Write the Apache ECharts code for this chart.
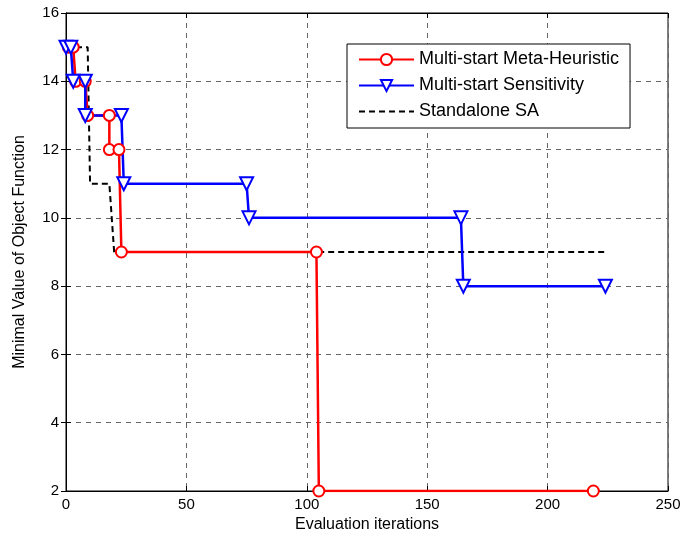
<!DOCTYPE html>
<html>
<head>
<meta charset="utf-8">
<script src="https://cdn.jsdelivr.net/npm/echarts@6/dist/echarts.min.js"></script>
<style>
html,body{margin:0;padding:0;background:#fff;}
#chart{width:685px;height:539px;}
</style>
</head>
<body>
<div id="chart"></div>
<script>
// Convergence traces: [evaluation iteration, minimal objective value]
const metaHeuristic = [[1,15],[3,15],[4,14],[8,14],[9,13],[18,13],[18,12],[22,12],[23,9],[104,9],[105,2],[219,2]];
const sensitivity = [[0,15],[2,15],[3,14],[8,14],[8,13],[23,13],[24,11],[75,11],[76,10],[164,10],[165,8],[224,8]];
const standaloneSA = [[0,15],[9,15],[10,11],[18,11],[20,9],[224,9]];

const seriesNames = ['Multi-start Meta-Heuristic', 'Multi-start Sensitivity', 'Standalone SA'];
const xTicks = {min: 0, max: 250, interval: 50};
const yTicks = {min: 2, max: 16, interval: 2};

const font = 'Liberation Sans, Arial, sans-serif';
const gridLine = {show: true, lineStyle: {color: '#666', type: [5, 5], width: 1}};

const chart = echarts.init(document.getElementById('chart'));
chart.setOption({
  animation: false,
  backgroundColor: '#fff',
  grid: {left: 66, right: 17, top: 13, bottom: 48, show: true, borderColor: '#000', borderWidth: 1},
  legend: {
    orient: 'vertical', left: 347, top: 44,
    backgroundColor: '#fff', borderColor: '#000', borderWidth: 1,
    padding: [5, 11, 6, 11], itemGap: 5, itemWidth: 55, itemHeight: 14,
    textStyle: {fontFamily: font, fontSize: 18, lineHeight: 21, color: '#000'},
    data: seriesNames
  },
  xAxis: [{
    type: 'value', min: xTicks.min, max: xTicks.max, interval: xTicks.interval,
    name: 'Evaluation iterations', nameLocation: 'middle', nameGap: 24,
    nameTextStyle: {fontFamily: font, fontSize: 16, color: '#000'},
    axisLine: {show: true, lineStyle: {color: '#000'}},
    axisTick: {inside: true, length: 5, lineStyle: {color: '#000'}},
    axisLabel: {fontFamily: font, fontSize: 15, color: '#000', margin: 6},
    splitLine: gridLine
  }, {
    type: 'value', position: 'top', min: xTicks.min, max: xTicks.max, interval: xTicks.interval,
    axisLine: {show: true, lineStyle: {color: '#000'}},
    axisTick: {inside: true, length: 5, lineStyle: {color: '#000'}},
    axisLabel: {show: false}, splitLine: {show: false}
  }],
  yAxis: [{
    type: 'value', min: yTicks.min, max: yTicks.max, interval: yTicks.interval,
    name: 'Minimal Value of Object Function', nameLocation: 'middle', nameGap: 38,
    nameTextStyle: {fontFamily: font, fontSize: 16, color: '#000'},
    axisLine: {show: true, lineStyle: {color: '#000'}},
    axisTick: {inside: true, length: 5, lineStyle: {color: '#000'}},
    axisLabel: {fontFamily: font, fontSize: 15, color: '#000', margin: 7},
    splitLine: gridLine
  }, {
    type: 'value', position: 'right', min: yTicks.min, max: yTicks.max, interval: yTicks.interval,
    axisLine: {show: true, lineStyle: {color: '#000'}},
    axisTick: {inside: true, length: 5, lineStyle: {color: '#000'}},
    axisLabel: {show: false}, splitLine: {show: false}
  }],
  series: [{
    name: seriesNames[0], type: 'line', data: metaHeuristic,
    symbol: 'emptyCircle', symbolSize: 11,
    lineStyle: {color: '#ff0000', width: 2.5},
    itemStyle: {color: '#ff0000', borderWidth: 2.5}
  }, {
    name: seriesNames[1], type: 'line', data: sensitivity,
    symbol: 'emptyTriangle', symbolSize: 13, symbolRotate: 180,
    lineStyle: {color: '#0000ff', width: 2.5},
    itemStyle: {color: '#0000ff', borderWidth: 2.5}
  }, {
    name: seriesNames[2], type: 'line', data: standaloneSA,
    symbol: 'none', z: 1,
    lineStyle: {color: '#000', width: 2, type: [6, 4]},
    itemStyle: {color: '#000', opacity: 0}
  }]
});
</script>
</body>
</html>
